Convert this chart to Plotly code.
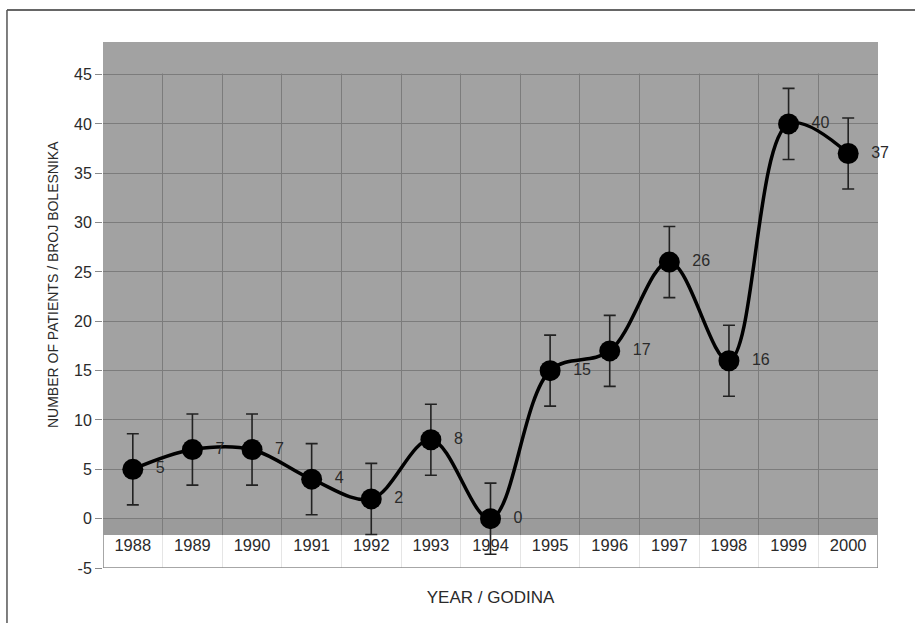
import plotly.graph_objects as go

years = ["1988", "1989", "1990", "1991", "1992", "1993", "1994",
         "1995", "1996", "1997", "1998", "1999", "2000"]
patients = [5, 7, 7, 4, 2, 8, 0, 15, 17, 26, 16, 40, 37]
err = [3.6] * len(years)
y_ticks = [-5, 0, 5, 10, 15, 20, 25, 30, 35, 40, 45]
label_row = -2.9

idx = list(range(len(years)))
FONT_R = "Liberation Sans, Arial, sans-serif"
TXT = "#2a2a2a"

fig = go.Figure()

fig.add_trace(go.Scatter(
    x=idx, y=patients,
    mode="lines+markers+text",
    line=dict(color="#000000", width=3.5, shape="spline", smoothing=1.0),
    marker=dict(color="#000000", size=21),
    error_y=dict(type="data", array=err, visible=True, color="#222222",
                 thickness=1.6, width=6),
    text=["  " + str(v) for v in patients],
    textposition="middle right",
    textfont=dict(family=FONT_R, size=16, color=TXT),
    cliponaxis=False,
    hoverinfo="skip",
    showlegend=False,
))

fig.add_trace(go.Scatter(
    x=idx, y=[label_row] * len(years),
    mode="text", text=years,
    textfont=dict(family=FONT_R, size=16.5, color=TXT),
    hoverinfo="skip", showlegend=False,
))

shapes = [
    dict(type="rect", xref="x", yref="y", x0=-0.5, x1=12.5, y0=-1.65, y1=48.3,
         fillcolor="#a2a2a2", line=dict(width=0), layer="below"),
    dict(type="rect", xref="x", yref="y", x0=-0.5, x1=12.5, y0=-1.65, y1=0,
         fillcolor="#9b9b9b", line=dict(width=0), layer="below"),
    dict(type="rect", xref="x", yref="y", x0=-0.5, x1=12.5, y0=45.1, y1=48.3,
         fillcolor="#a2a2a2", line=dict(width=0), layer="between"),
    dict(type="rect", xref="x", yref="y", x0=-0.5, x1=12.5, y0=-5, y1=-1.65,
         fillcolor="rgba(255,255,255,0.8)", line=dict(width=0), layer="between"),
    dict(type="path", xref="x", yref="y",
         path="M -0.5,-1.65 L -0.5,-5 L 12.5,-5 L 12.5,-1.65",
         line=dict(color="#8a8a8a", width=1.5), layer="between"),
    dict(type="line", xref="paper", yref="paper", x0=-0.1239, x1=1.1, y0=1.0608, y1=1.0608,
         line=dict(color="#333333", width=1.5), layer="below"),
    dict(type="line", xref="paper", yref="paper", x0=-0.1239, x1=-0.1239, y0=-0.2, y1=1.0608,
         line=dict(color="#555555", width=1.5), layer="below"),
]

annotations = [
    dict(text="NUMBER OF PATIENTS / BROJ BOLESNIKA", textangle=-90,
         xref="paper", yref="paper", x=-0.0645, y=0.538,
         xanchor="center", yanchor="middle", showarrow=False,
         font=dict(family=FONT_R, size=14, color=TXT)),
]

fig.update_layout(
    width=915, height=623,
    margin=dict(l=103, r=37, t=42, b=55),
    paper_bgcolor="#ffffff",
    plot_bgcolor="#ffffff",
    shapes=shapes,
    annotations=annotations,
    xaxis=dict(
        range=[-0.5, 12.5],
        tickvals=[i - 0.5 for i in range(len(years) + 1)],
        showticklabels=False,
        showgrid=True, gridcolor="#7c7c7c", gridwidth=1,
        zeroline=False, showline=False, ticks="",
        title=dict(text="YEAR / GODINA", font=dict(family=FONT_R, size=17, color=TXT),
                   standoff=23),
        fixedrange=True,
    ),
    yaxis=dict(
        range=[-5, 48.3],
        tickvals=y_ticks,
        ticktext=[str(v) for v in y_ticks],
        tickfont=dict(family=FONT_R, size=16, color=TXT),
        showgrid=True, gridcolor="#7c7c7c", gridwidth=1.2,
        zeroline=False, showline=False,
        ticks="outside", ticklen=7, tickcolor="#8a8a8a",
        fixedrange=True,
    ),
)

fig.write_html("out.html", config={"displayModeBar": False},
               post_script="document.body.style.margin='0';")
